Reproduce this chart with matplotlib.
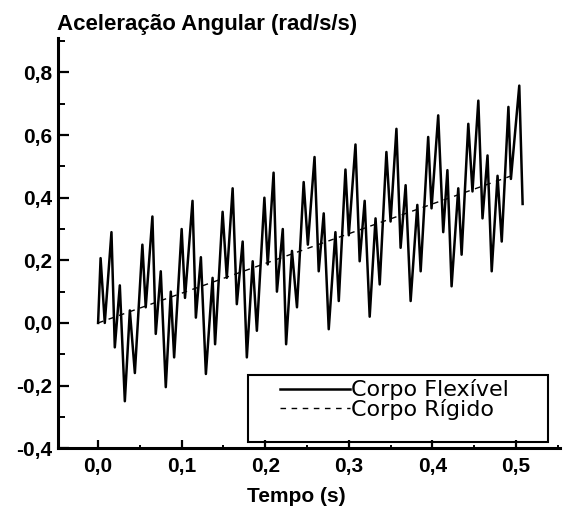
import matplotlib
matplotlib.use('Agg')
import matplotlib.pyplot as plt
from matplotlib.ticker import MultipleLocator, FuncFormatter
from matplotlib.patches import Rectangle

# Corpo flexivel (picos e vales)
t_flex = [0.000, 0.003, 0.008, 0.016, 0.020, 0.026, 0.032, 0.038, 0.044, 0.053,
          0.057, 0.065, 0.069, 0.075, 0.081, 0.087, 0.091, 0.100, 0.104, 0.113,
          0.117, 0.123, 0.129, 0.137, 0.140, 0.149, 0.154, 0.161, 0.166, 0.173,
          0.178, 0.185, 0.190, 0.199, 0.203, 0.210, 0.214, 0.221, 0.225, 0.232,
          0.238, 0.246, 0.251, 0.259, 0.264, 0.270, 0.276, 0.284, 0.288, 0.296,
          0.300, 0.308, 0.313, 0.319, 0.325, 0.332, 0.337, 0.345, 0.350, 0.357,
          0.362, 0.368, 0.374, 0.382, 0.386, 0.395, 0.399, 0.407, 0.413, 0.418,
          0.423, 0.431, 0.435, 0.443, 0.448, 0.455, 0.460, 0.466, 0.471, 0.478,
          0.483, 0.491, 0.494, 0.504, 0.508]
a_flex = [0.000, 0.207, 0.000, 0.290, -0.078, 0.120, -0.250, 0.040, -0.160, 0.250,
          0.050, 0.340, -0.035, 0.165, -0.205, 0.100, -0.110, 0.300, 0.080, 0.390,
          0.017, 0.210, -0.163, 0.144, -0.068, 0.355, 0.144, 0.430, 0.060, 0.260,
          -0.110, 0.197, -0.025, 0.400, 0.187, 0.480, 0.100, 0.300, -0.068, 0.230,
          0.050, 0.450, 0.250, 0.530, 0.165, 0.350, -0.020, 0.290, 0.070, 0.490,
          0.280, 0.570, 0.197, 0.390, 0.020, 0.334, 0.123, 0.546, 0.324, 0.620,
          0.240, 0.440, 0.070, 0.377, 0.165, 0.594, 0.366, 0.663, 0.290, 0.488,
          0.117, 0.430, 0.218, 0.636, 0.420, 0.710, 0.334, 0.535, 0.165, 0.470,
          0.260, 0.690, 0.460, 0.758, 0.380]

# Corpo rigido
t_rig = [0.0, 0.1, 0.2, 0.3, 0.4, 0.5]
a_rig = [0.0, 0.095, 0.19, 0.285, 0.38, 0.475]

plt.rcParams['font.family'] = ['Liberation Sans', 'DejaVu Sans']

fig = plt.figure(figsize=(5.74, 5.07), dpi=100)
ax = fig.add_axes([0.101, 0.116, 0.875, 0.809])

ax.plot(t_flex, a_flex, color='black', lw=1.8, label='Corpo Flexível')
ax.plot(t_rig, a_rig, color='black', lw=1.0, ls=(0, (4, 4)), label='Corpo Rígido')

ax.set_xlim(-0.048, 0.553)
ax.set_ylim(-0.4, 0.91)

for s in ['top', 'right']:
    ax.spines[s].set_visible(False)
for s in ['left', 'bottom']:
    ax.spines[s].set_linewidth(2.2)

ax.xaxis.set_major_locator(MultipleLocator(0.1))
ax.xaxis.set_minor_locator(MultipleLocator(0.05))
ax.yaxis.set_major_locator(MultipleLocator(0.2))
ax.yaxis.set_minor_locator(MultipleLocator(0.1))

comma = FuncFormatter(lambda v, p: f'{v:.1f}'.replace('.', ',').replace('-0,0', '0,0'))
ax.xaxis.set_major_formatter(comma)
ax.yaxis.set_major_formatter(comma)

ax.tick_params(axis='y', which='major', direction='in', length=8, width=1.6, pad=4)
ax.tick_params(axis='y', which='minor', direction='in', length=5, width=1.4)
ax.tick_params(axis='x', which='major', direction='in', length=5.5, width=1.6, pad=6)
ax.tick_params(axis='x', which='minor', direction='in', length=2.5, width=1.4)
for lab in ax.get_xticklabels() + ax.get_yticklabels():
    lab.set_fontsize(15)
    lab.set_fontweight('bold')

ax.set_xlabel('Tempo (s)', fontsize=15, fontweight='bold')
ax.xaxis.set_label_coords(0.474, -0.095)

fig.text(0.099, 0.941, 'Aceleração Angular (rad/s/s)', fontsize=16,
         fontweight='bold', va='baseline', ha='left')

# caixa da legenda
ax.add_patch(Rectangle((0.378, 0.0154), 0.598, 0.163, transform=ax.transAxes,
                       fill=False, edgecolor='black', lw=1.5, zorder=5, clip_on=False))
ax.legend(loc='upper left', bbox_to_anchor=(0.442, 0.168), frameon=False,
          prop={'family': 'DejaVu Sans', 'size': 16}, handlelength=3.15,
          handletextpad=0.05, borderpad=0, borderaxespad=0, labelspacing=-0.08)

fig.savefig('out.png', dpi=100)
